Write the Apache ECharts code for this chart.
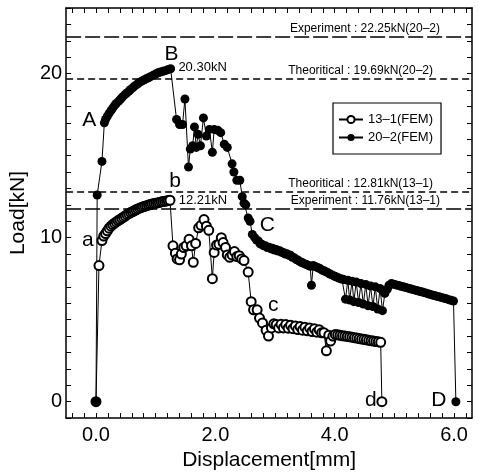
<!DOCTYPE html>
<html>
<head>
<meta charset="utf-8">
<script src="https://cdn.jsdelivr.net/npm/echarts@6/dist/echarts.min.js"></script>
<style>
  html, body { margin: 0; padding: 0; background: #fff; }
  #chart { width: 479px; height: 476px; }
</style>
</head>
<body>
<div id="chart"></div>
<script>
// load-displacement values, [mm, kN]
var fem13 = [
  [0, 0], [0.05, 8.3], [0.10, 9.82], [0.13, 10.1], [0.16, 10.25], [0.19, 10.42], [0.22, 10.58],
  [0.25, 10.7], [0.28, 10.8], [0.31, 10.88], [0.34, 10.96], [0.37, 11.04], [0.40, 11.1],
  [0.43, 11.18], [0.46, 11.25], [0.49, 11.32], [0.52, 11.4], [0.55, 11.46], [0.58, 11.53],
  [0.61, 11.58], [0.64, 11.64], [0.67, 11.7], [0.70, 11.75], [0.73, 11.8], [0.76, 11.84],
  [0.79, 11.88], [0.82, 11.92], [0.85, 11.95], [0.88, 11.99], [0.91, 12.02], [0.94, 12.05],
  [0.97, 12.08], [1.00, 12.1], [1.03, 12.12], [1.06, 12.15], [1.09, 12.18], [1.12, 12.2],
  [1.15, 12.22], [1.18, 12.24], [1.21, 12.26], [1.24, 12.28],
  [1.29, 9.5], [1.33, 9.05], [1.36, 8.7], [1.40, 8.65], [1.43, 9.0], [1.47, 9.4], [1.51, 9.5],
  [1.56, 9.9], [1.60, 9.5], [1.63, 8.5], [1.67, 9.65], [1.72, 10.6], [1.76, 10.75], [1.81, 11.1],
  [1.85, 10.7], [1.89, 10.45], [1.95, 7.5], [1.98, 9.1], [2.02, 9.55], [2.06, 9.6], [2.10, 10.0],
  [2.13, 9.7], [2.17, 9.4], [2.20, 8.95], [2.24, 8.8], [2.28, 8.95], [2.32, 9.15], [2.36, 8.85],
  [2.40, 8.9], [2.44, 8.7], [2.48, 8.6], [2.55, 7.9], [2.60, 6.1], [2.64, 5.6], [2.70, 5.6],
  [2.74, 5.1], [2.79, 4.8], [2.85, 4.35], [2.89, 4.0], [2.94, 4.5], [2.98, 4.75],
  [3.02, 4.7], [3.06, 4.5], [3.10, 4.72], [3.14, 4.5], [3.18, 4.7], [3.22, 4.48], [3.26, 4.66],
  [3.30, 4.45], [3.34, 4.62], [3.38, 4.4], [3.42, 4.58], [3.46, 4.36], [3.50, 4.54], [3.54, 4.32],
  [3.58, 4.5], [3.62, 4.28], [3.66, 4.44], [3.70, 4.24], [3.74, 4.38], [3.78, 4.2], [3.82, 4.2],
  [3.86, 3.1], [3.90, 4.05], [3.93, 3.7], [3.97, 4.0], [4.01, 4.1], [4.05, 4.08], [4.09, 4.05],
  [4.13, 4.02], [4.17, 4.0], [4.21, 3.98], [4.25, 3.96], [4.29, 3.93], [4.33, 3.9], [4.37, 3.88],
  [4.41, 3.85], [4.45, 3.82], [4.49, 3.8], [4.53, 3.77], [4.57, 3.74], [4.61, 3.72], [4.65, 3.7],
  [4.69, 3.67], [4.73, 3.65], [4.77, 3.62], [4.79, 0]
];

var fem20 = [
  [0, 0], [0.02, 12.6], [0.10, 14.65], [0.14, 17.0], [0.16, 17.2], [0.19, 17.4], [0.22, 17.58],
  [0.25, 17.74], [0.28, 17.9], [0.31, 18.05], [0.34, 18.18], [0.38, 18.32], [0.41, 18.44],
  [0.44, 18.56], [0.48, 18.7], [0.51, 18.8], [0.55, 18.92], [0.58, 19.03], [0.62, 19.15],
  [0.65, 19.25], [0.69, 19.35], [0.72, 19.44], [0.76, 19.53], [0.80, 19.61], [0.84, 19.68],
  [0.88, 19.75], [0.92, 19.83], [0.96, 19.9], [1.00, 19.98], [1.04, 20.05], [1.08, 20.1],
  [1.12, 20.14], [1.16, 20.18], [1.20, 20.23], [1.25, 20.3],
  [1.35, 17.2], [1.40, 16.9], [1.45, 16.9], [1.49, 18.45], [1.55, 14.3], [1.58, 15.4], [1.62, 15.6],
  [1.65, 16.75], [1.68, 15.5], [1.71, 16.3], [1.75, 15.6], [1.80, 17.3], [1.85, 16.2], [1.90, 16.6],
  [1.95, 15.2], [1.98, 16.6], [2.04, 16.55], [2.09, 16.4], [2.15, 15.7], [2.20, 15.5], [2.28, 14.5],
  [2.31, 14.0], [2.36, 13.5], [2.41, 13.5], [2.45, 12.5], [2.48, 12.1], [2.51, 12.0], [2.55, 11.2],
  [2.58, 11.0], [2.62, 10.2], [2.66, 10.0],
  [2.69, 9.85], [2.72, 9.8], [2.75, 9.62], [2.78, 9.6], [2.81, 9.5], [2.84, 9.5], [2.87, 9.4],
  [2.90, 9.42], [2.93, 9.32], [2.96, 9.35], [2.99, 9.25], [3.02, 9.28], [3.05, 9.18], [3.08, 9.2],
  [3.11, 9.1], [3.14, 9.1], [3.17, 9.0], [3.20, 9.02], [3.23, 8.92], [3.26, 8.92], [3.29, 8.8],
  [3.32, 8.78], [3.35, 8.68], [3.38, 8.64], [3.41, 8.55], [3.44, 8.5], [3.47, 8.45], [3.50, 8.4],
  [3.53, 8.36], [3.56, 8.3], [3.59, 8.25], [3.61, 7.1], [3.64, 8.3], [3.67, 8.24], [3.70, 8.2],
  [3.73, 8.15], [3.76, 8.1], [3.79, 8.02], [3.82, 7.98], [3.85, 7.92], [3.88, 7.88], [3.91, 7.8],
  [3.94, 7.75], [3.97, 7.7], [4.00, 7.65], [4.03, 7.6], [4.06, 7.55], [4.09, 7.5], [4.12, 7.48],
  [4.15, 7.45], [4.18, 6.25], [4.22, 7.4], [4.25, 6.2], [4.29, 7.35], [4.32, 6.1], [4.36, 7.3],
  [4.40, 6.05], [4.44, 7.2], [4.48, 5.95], [4.52, 7.15], [4.56, 5.85], [4.60, 7.05], [4.64, 5.8],
  [4.68, 7.0], [4.72, 5.65], [4.76, 6.9], [4.80, 5.55], [4.84, 6.6], [4.88, 6.85], [4.91, 7.1],
  [4.95, 7.2], [4.99, 7.16], [5.03, 7.12], [5.07, 7.08], [5.11, 7.04], [5.15, 7.0], [5.19, 6.96],
  [5.23, 6.92], [5.27, 6.88], [5.31, 6.84], [5.35, 6.8], [5.39, 6.76], [5.43, 6.72], [5.47, 6.68],
  [5.51, 6.64], [5.55, 6.6], [5.59, 6.55], [5.63, 6.51], [5.67, 6.47], [5.71, 6.43], [5.75, 6.39],
  [5.79, 6.35], [5.83, 6.31], [5.87, 6.27], [5.91, 6.22], [5.95, 6.18], [5.99, 6.14], [6.03, 0]
];

var refLoads = [22.25, 19.69, 12.81, 11.76];
var refTexts = ['Experiment : 22.25kN(20\u20132)', 'Theoritical : 19.69kN(20\u20132)',
                'Theoritical : 12.81kN(13\u20131)', 'Experiment : 11.76kN(13\u20131)'];
var refDash = [[15, 4], [7, 4], [7, 4], [15, 4]];
var refGap = [32, 39, 39, 32];

var xLabels = [0, 2, 4, 6];
var yLabels = [0, 10, 20];

var xTicks = [];
for (var i = -2; i <= 31; i++) xTicks.push(Math.round(i * 2) / 10);

var FONT = '"Liberation Sans", Arial, Helvetica, sans-serif';

var myChart = echarts.init(document.getElementById('chart'));

function letter(name, pt, dx, dy, size) {
  return {
    name: name, coord: pt,
    label: { offset: [dx, dy], fontSize: size || 21 }
  };
}

var refLineData = refLoads.map(function (v, k) {
  return {
    yAxis: v, name: refTexts[k],
    lineStyle: { type: refDash[k], width: 1.5, color: '#000' },
    label: { distance: [refGap[k], 2] }
  };
});

var xAxisBase = {
  type: 'value', min: -0.5, max: 6.3,
  splitLine: { show: false },
  axisLine: { onZero: false, lineStyle: { color: '#000', width: 1.5 } },
  axisTick: { inside: true, length: 5, customValues: xTicks, lineStyle: { color: '#000' } }
};
var yAxisBase = {
  type: 'value', min: -1, max: 24, interval: 1,
  splitLine: { show: false },
  axisLine: { onZero: false, lineStyle: { color: '#000', width: 1.5 } },
  axisTick: { inside: true, length: 5, lineStyle: { color: '#000' } }
};

var option = {
  animation: false,
  backgroundColor: '#fff',
  textStyle: { fontFamily: FONT, color: '#000' },
  grid: { left: 61, right: 7, top: 8, bottom: 51 },
  legend: {
    left: 333, top: 103, orient: 'vertical',
    padding: [10, 8, 10, 5], itemGap: 5, itemWidth: 24, itemHeight: 9,
    borderColor: '#000', borderWidth: 1.2, backgroundColor: '#fff',
    textStyle: { fontSize: 13, color: '#000', fontFamily: FONT },
    data: ['13\u20131(FEM)', '20\u20132(FEM)']
  },
  xAxis: [
    echarts.util.merge({
      position: 'bottom',
      name: 'Displacement[mm]', nameLocation: 'middle', nameGap: 25,
      nameTextStyle: { fontSize: 21, color: '#000', fontFamily: FONT },
      axisLabel: {
        customValues: xLabels, margin: 7, fontSize: 20, color: '#000', fontFamily: FONT,
        formatter: function (v) { return v.toFixed(1); }
      }
    }, xAxisBase, true),
    echarts.util.merge({ position: 'top', axisLabel: { show: false } }, xAxisBase, true)
  ],
  yAxis: [
    echarts.util.merge({
      position: 'left',
      name: 'Load[kN]', nameLocation: 'middle', nameGap: 24,
      nameTextStyle: { fontSize: 21, color: '#000', fontFamily: FONT },
      axisLabel: {
        customValues: yLabels, margin: 4, fontSize: 20, color: '#000', fontFamily: FONT
      }
    }, yAxisBase, true),
    echarts.util.merge({ position: 'right', axisLabel: { show: false } }, yAxisBase, true)
  ],
  series: [
    {
      name: '13\u20131(FEM)', type: 'line', data: fem13,
      symbol: 'emptyCircle', symbolSize: 9,
      lineStyle: { color: '#000', width: 1 },
      itemStyle: { color: '#000', borderColor: '#000', borderWidth: 1.2 },
      markPoint: {
        symbol: 'circle', symbolSize: 1, silent: true,
        itemStyle: { color: 'rgba(0,0,0,0)' },
        label: { show: true, position: 'inside', formatter: '{b}', color: '#000', fontFamily: FONT },
        data: [
          letter('a', fem13[2], -14, 0),
          letter('b', fem13[40], 5, -19),
          letter('12.21kN', fem13[40], 33, 0, 13),
          letter('c', fem13[75], 16, -5),
          letter('d', fem13[fem13.length - 1], -11, -1)
        ]
      }
    },
    {
      name: '20\u20132(FEM)', type: 'line', data: fem20,
      symbol: 'circle', symbolSize: 9,
      lineStyle: { color: '#000', width: 1 },
      itemStyle: { color: '#000' },
      markLine: {
        silent: true, symbol: ['none', 'none'],
        label: { show: true, position: 'insideEndTop', formatter: '{b}', fontSize: 12, color: '#000', fontFamily: FONT },
        data: refLineData
      },
      markPoint: {
        symbol: 'circle', symbolSize: 1, silent: true,
        itemStyle: { color: 'rgba(0,0,0,0)' },
        label: { show: true, position: 'inside', formatter: '{b}', color: '#000', fontFamily: FONT },
        data: [
          letter('A', fem20[3], -15, -3),
          letter('B', fem20[34], 1, -14),
          letter('20.30kN', fem20[34], 32, -1, 13),
          letter('C', fem20[64], 15, -9),
          letter('D', fem20[fem20.length - 1], -17, -1)
        ]
      }
    }
  ]
};

myChart.setOption(option);
</script>
</body>
</html>
